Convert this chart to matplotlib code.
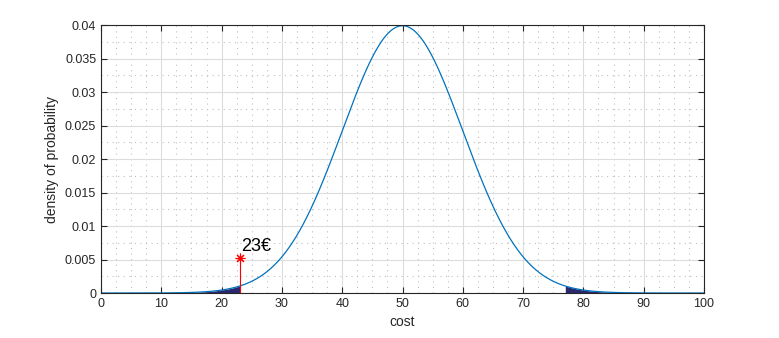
import numpy as np
import matplotlib
matplotlib.use('Agg')
import matplotlib.pyplot as plt
from matplotlib.ticker import MultipleLocator

plt.rcParams['font.family'] = ['Liberation Sans', 'DejaVu Sans']

# distribution of the cost
mu = 50
sigma = 10
x_min, x_max = 0, 100
low_cut = 23      # lower tail limit
high_cut = 77     # upper tail limit
marker_x = 23
marker_y = 0.0053
marker_label = '23€'

x = np.linspace(x_min, x_max, 1001)
pdf = np.exp(-(x - mu) ** 2 / (2 * sigma ** 2)) / (sigma * np.sqrt(2 * np.pi))

fig = plt.figure(figsize=(7.79, 3.38), dpi=100)
ax = fig.add_axes([0.1297, 0.1331, 0.7740, 0.7929])

left = x <= low_cut
right = x >= high_cut
ax.fill_between(x[left], 0, pdf[left], color='#29286f', lw=0)
ax.fill_between(x[right], 0, pdf[right], color='#29286f', lw=0)
ax.plot(x, pdf, color='#0072BD', lw=0.9)

ax.plot([marker_x, marker_x], [0, marker_y], color='red', lw=0.8)
ax.plot(marker_x, marker_y, marker=(8, 2, 0), color='red', ms=7, mew=0.8, ls='none')
ax.text(marker_x + 0.2, marker_y + 0.0003, marker_label, fontsize=13, va='bottom', ha='left')

ax.set_xlim(x_min, x_max)
ax.set_ylim(0, 0.04)
ax.xaxis.set_major_locator(MultipleLocator(10))
ax.xaxis.set_minor_locator(MultipleLocator(2.5))
ax.yaxis.set_minor_locator(MultipleLocator(0.0025))
ax.set_yticks(np.arange(0, 0.0401, 0.005))
ax.set_yticklabels(['0', '0.005', '0.01', '0.015', '0.02', '0.025', '0.03', '0.035', '0.04'])

ax.grid(which='major', color='#dcdcdc', lw=0.8)
ax.grid(which='minor', color='#c0c0c0', lw=0.8, ls=(0, (1, 4)))
ax.set_axisbelow(True)
ax.tick_params(which='major', direction='in', top=True, right=True, length=4, labelsize=9, colors='#262626')
ax.tick_params(which='minor', length=0)
for s in ax.spines.values():
    s.set_color('#262626')
    s.set_linewidth(0.8)

ax.set_xlabel('cost', fontsize=10, color='#262626')
ax.set_ylabel('density of probability', fontsize=10, color='#262626')

fig.savefig('out.png', dpi=100)
